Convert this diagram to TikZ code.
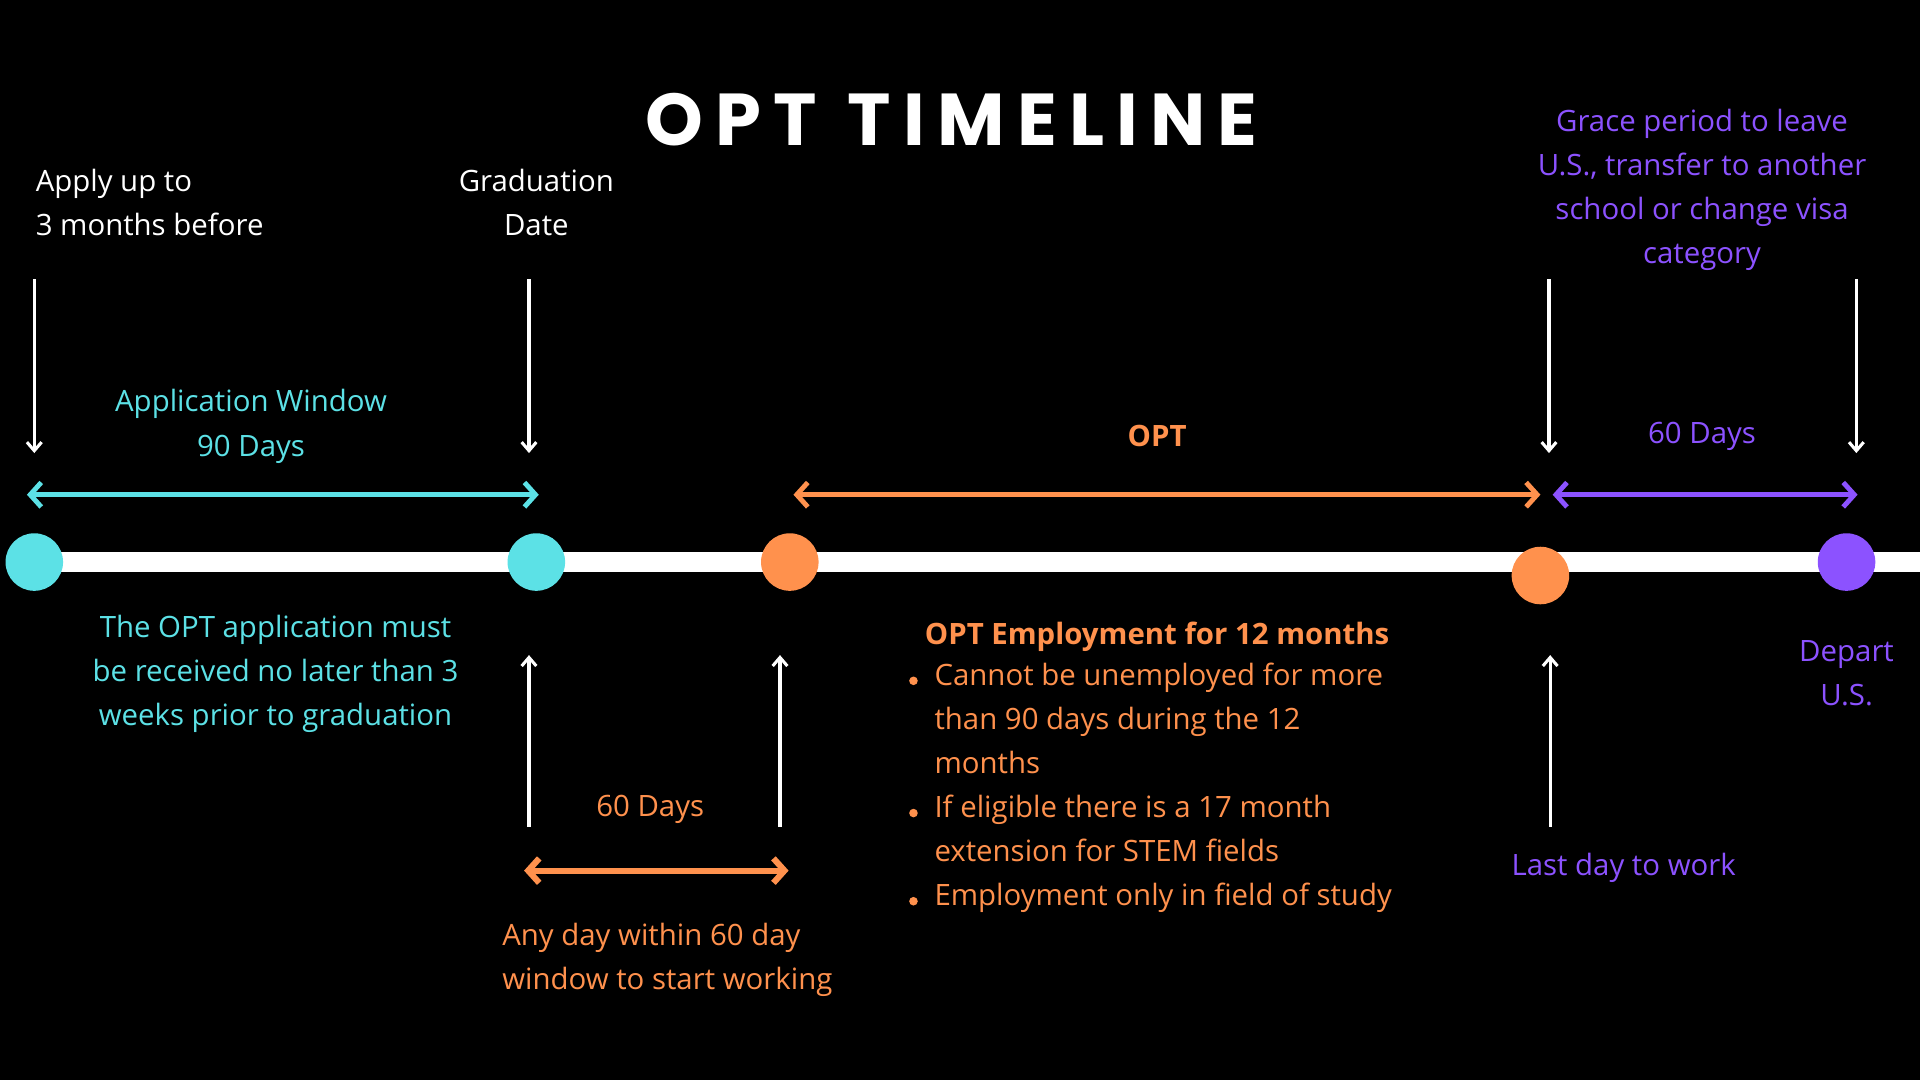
\documentclass[tikz,border=0pt]{standalone}
\usepackage{fontspec}
\setmainfont{Open Sans}
\newfontfamily\titlefont{Poppins}
\usetikzlibrary{arrows.meta}
\definecolor{cy}{HTML}{5CE1E6}
\definecolor{orr}{HTML}{FF914D}
\definecolor{pu}{HTML}{8C52FF}
\begin{document}
\begin{tikzpicture}[x=1pt,y=-1pt,
  txt/.style={font=\fontsize{24}{36}\selectfont,inner sep=0pt,align=center},
  dn/.style={white,line width=2.5pt,-{Straight Barb[length=7pt,width=12pt]}},
  dbl/.style={line width=4pt,{Straight Barb[length=9pt,width=20pt]}-{Straight Barb[length=9pt,width=20pt]}},
  dot/.style={circle,minimum size=47pt,inner sep=0pt}]
\fill[black] (0,0) rectangle (1568,882);
\useasboundingbox (0,0) rectangle (1568,882);
\node[font=\titlefont\bfseries\fontsize{60}{60}\selectfont,white] (title) at (777,98) {O\,P\,T\ \ T\,I\,M\,E\,L\,I\,N\,E};
\draw[white,line width=16pt] (28,459) -- (1568,459);
\node[dot,fill=cy] (c1) at (28,459) {};
\node[dot,fill=cy] (c2) at (438,459) {};
\node[dot,fill=orr] (c3) at (645,459) {};
\node[dot,fill=orr] (c4) at (1258,470) {};
\node[dot,fill=pu] (c5) at (1508,459) {};
% down arrows
\foreach \n/\x in {a/28,b/432,c/1265,d/1516}{
  \coordinate (\n t) at (\x,228); \coordinate (\n b) at (\x,370);
  \draw[dn] (\n t) -- (\n b);}
\foreach \n/\x in {e/432,f/637,g/1266}{
  \coordinate (\n t) at (\x,675); \coordinate (\n b) at (\x,535);
  \draw[dn] (\n t) -- (\n b);}
% double arrows
\coordinate (h1) at (22,404); \coordinate (h2) at (440,404);
\draw[dbl,cy] (h1) -- (h2);
\coordinate (i1) at (648,404); \coordinate (i2) at (1258,404);
\draw[dbl,orr] (i1) -- (i2);
\coordinate (j1) at (1268,404); \coordinate (j2) at (1517,404);
\draw[dbl,pu] (j1) -- (j2);
\coordinate (k1) at (428,711); \coordinate (k2) at (644,711);
\draw[dbl,orr,line width=5pt] (k1) -- (k2);
% texts
\node[txt,white,align=left,anchor=north west] (t1) at (29,138) {Apply up to\\3 months before};
\node[txt,white,anchor=north] (t2) at (438,138) {Graduation\\Date};
\node[txt,cy,anchor=north] (t3) at (205,318) {Application Window\\90 Days};
\node[txt,orr,font=\fontsize{24}{36}\selectfont\bfseries] (t4) at (945,356) {OPT};
\node[txt,pu] (t5) at (1390,356) {60 Days};
\node[txt,pu,anchor=north] (t6) at (1390,89) {Grace period to leave\\U.S., transfer to another\\school or change visa\\category};
\node[txt,cy,anchor=north] (t7) at (225,502) {The OPT application must\\be received no later than 3\\weeks prior to graduation};
\node[txt,orr] (t8) at (531,661) {60 Days};
\node[txt,orr,align=left,anchor=north west] (t9) at (410,754) {Any day within 60 day\\window to start working};
\node[txt,orr,font=\fontsize{24}{36}\selectfont\bfseries] (t10) at (945,520) {OPT Employment for 12 months};
\node[txt,orr,align=left,anchor=north west] (t11) at (763,541) {Cannot be unemployed for more\\than 90 days during the 12\\months\\If eligible there is a 17 month\\extension for STEM fields\\Employment only in field of study};
\foreach \y in {556,664,736}{\fill[orr] (746,\y) circle (3.5pt);}
\node[txt,pu] (t12) at (1326,709) {Last day to work};
\node[txt,pu,anchor=north] (t13) at (1508,523) {Depart\\U.S.};
\end{tikzpicture}
\end{document}
